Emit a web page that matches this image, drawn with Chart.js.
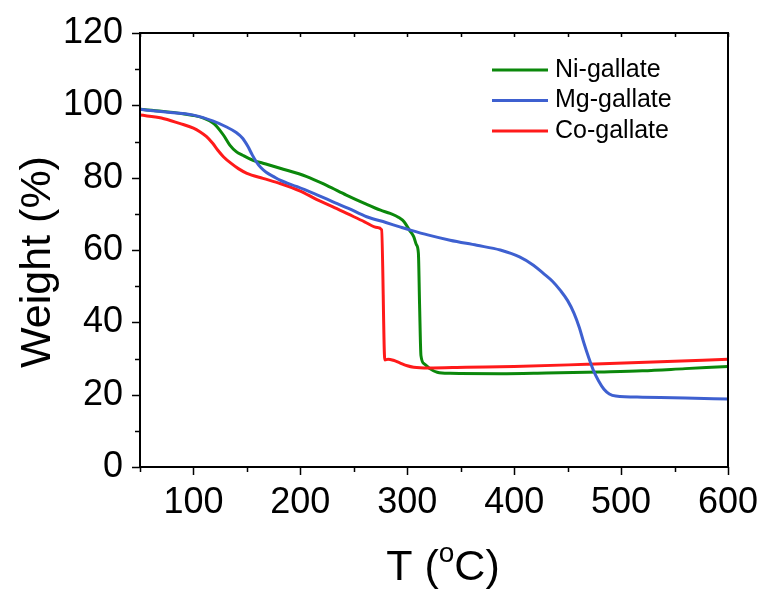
<!DOCTYPE html>
<html><head><meta charset="utf-8">
<script src="https://cdn.jsdelivr.net/npm/chart.js@4.4.0/dist/chart.umd.min.js"></script>
<style>html,body{margin:0;padding:0;background:#fff}</style>
</head><body>
<canvas id="c" width="765" height="592"></canvas>
<script>
// ---- data ----
const seriesNames = ['Ni-gallate', 'Mg-gallate', 'Co-gallate'];
const seriesColors = ['#0b880b', '#3e60d0', '#ff1a1a'];

const niT = [50,70,90,100,110,118,122,128,134,140,146,155.7,165,181,206,225,243,260,275,284,292,297,302,306,308.5,310.4,311.5,312.8,316,321,328,340,387,430,480,520,560,600];
const niW = [98.9,98.4,97.7,97.2,96.4,95.2,94.1,91.8,89.0,87.2,86.2,84.8,84.0,82.6,80.3,77.8,75.2,72.9,71.0,70.1,69.0,67.8,65.5,63.7,61.5,59.1,45.0,30.8,28.5,27.2,26.2,25.9,25.8,26.0,26.3,26.6,27.2,27.8];

const mgT = [50,72,100,118,131,140,146,151,155,159,163,168,175,181,197,215,230,245,262,280,293,303,320,340,365,387,405,418,427,436,443,450,456,461,465,470,474,479,484,489,495,520,560,600];
const mgW = [98.9,98.2,97.3,95.7,94.0,92.5,90.9,88.6,86.3,84.3,82.8,81.5,80.3,79.3,77.5,75.3,73.4,71.5,69.2,67.6,66.4,65.5,64.1,62.7,61.3,60.0,58.1,55.8,53.6,51.3,48.9,46.0,42.5,38.5,34.5,30.0,26.8,23.8,21.5,20.2,19.6,19.3,19.1,18.8];

const coT = [50,70,87,100,106,112,118,123,128,135,142,150,165,181,200,215,230,245,260,272,276,279,282,287,293,300,306,320,355,400,468,530,600];
const coW = [97.3,96.5,95.0,93.7,92.7,91.4,89.5,87.5,85.8,84.0,82.5,81.2,79.8,78.4,76.3,74.0,72.0,69.9,67.8,66.2,65.6,29.6,29.8,29.5,28.8,28.0,27.6,27.4,27.6,27.8,28.4,29.0,29.8];

const xTicks = [100, 200, 300, 400, 500, 600];
const yTicks = [0, 20, 40, 60, 80, 100, 120];
const xTitle = ['T (', 'o', 'C)'];
const yTitle = 'Weight (%)';

const FONT = '"Liberation Sans", Arial, sans-serif';
const toPts = (xs, ys) => xs.map((x, i) => ({x: x, y: ys[i]}));

const framePlugin = {
  id: 'frame',
  afterDraw(chart) {
    const ctx = chart.ctx, ca = chart.chartArea;
    const xs = chart.scales.x, ys = chart.scales.y;
    ctx.save();
    ctx.strokeStyle = '#000';
    ctx.lineWidth = 2;
    ctx.strokeRect(ca.left, ca.top, ca.right - ca.left, ca.bottom - ca.top);
    ctx.lineWidth = 1.5;
    ctx.beginPath();
    for (let t = 50; t <= 600; t += 50) {
      const px = Math.round(xs.getPixelForValue(t)) + 0.5;
      const len = (t % 100 === 0) ? 8 : 5;
      ctx.moveTo(px, ca.bottom); ctx.lineTo(px, ca.bottom + len);
      ctx.moveTo(px, ca.top); ctx.lineTo(px, ca.top + 4);
    }
    for (let v = 0; v <= 120; v += 10) {
      const py = Math.round(ys.getPixelForValue(v)) + 0.5;
      const len = (v % 20 === 0) ? 8 : 5;
      ctx.moveTo(ca.left, py); ctx.lineTo(ca.left - len, py);
    }
    ctx.stroke();

    // axis titles
    ctx.fillStyle = '#000';
    ctx.textBaseline = 'alphabetic';
    const big = '43px ' + FONT, small = '28px ' + FONT;
    ctx.font = big; const w1 = ctx.measureText(xTitle[0]).width, w3 = ctx.measureText(xTitle[2]).width;
    ctx.font = small; const w2 = ctx.measureText(xTitle[1]).width;
    const cx = 443, by = 580;
    let sx = cx - (w1 + w2 + w3) / 2;
    ctx.textAlign = 'left';
    ctx.font = big; ctx.fillText(xTitle[0], sx, by);
    ctx.font = small; ctx.fillText(xTitle[1], sx + w1, by - 18);
    ctx.font = big; ctx.fillText(xTitle[2], sx + w1 + w2, by);

    ctx.save();
    ctx.translate(50, 262);
    ctx.rotate(-Math.PI / 2);
    ctx.textAlign = 'center';
    ctx.font = big;
    ctx.fillText(yTitle, 0, 0);
    ctx.restore();

    // legend
    ctx.font = '25px ' + FONT;
    ctx.textBaseline = 'middle';
    ctx.textAlign = 'left';
    seriesNames.forEach((n, i) => {
      const y = 70 + i * 30.5;
      ctx.strokeStyle = seriesColors[i];
      ctx.lineWidth = 3;
      ctx.beginPath(); ctx.moveTo(492, y); ctx.lineTo(548, y); ctx.stroke();
      ctx.fillStyle = '#000';
      ctx.fillText(n, 555, y);
    });
    ctx.restore();
  }
};

const ds = (i, xs, ys, order) => ({
  label: seriesNames[i],
  data: toPts(xs, ys),
  borderColor: seriesColors[i],
  backgroundColor: seriesColors[i],
  borderWidth: 3,
  pointRadius: 0,
  fill: false,
  cubicInterpolationMode: 'monotone',
  order: order
});

new Chart(document.getElementById('c'), {
  type: 'line',
  data: { datasets: [ds(0, niT, niW, 2), ds(1, mgT, mgW, 0), ds(2, coT, coW, 1)] },
  options: {
    responsive: false,
    animation: false,
    devicePixelRatio: 1,
    layout: { padding: { left: 0, top: 33, right: 37, bottom: 0 } },
    plugins: { legend: { display: false }, tooltip: { enabled: false } },
    scales: {
      x: {
        type: 'linear', min: 50, max: 600,
        afterBuildTicks: s => { s.ticks = xTicks.map(v => ({value: v})); },
        afterFit: s => { s.height = 125; s.paddingLeft = 0; s.paddingRight = 0; },
        grid: { display: false, drawTicks: false },
        border: { display: false },
        ticks: { color: '#000', font: { family: FONT, size: 36 }, padding: 14, maxRotation: 0 }
      },
      y: {
        type: 'linear', min: 0, max: 120,
        afterBuildTicks: s => { s.ticks = yTicks.map(v => ({value: v})); },
        afterFit: s => { s.width = 140; s.paddingTop = 0; s.paddingBottom = 0; },
        grid: { display: false, drawTicks: false },
        border: { display: false },
        ticks: { color: '#000', font: { family: FONT, size: 36 }, padding: 17 }
      }
    }
  },
  plugins: [framePlugin]
});
</script>
</body></html>
